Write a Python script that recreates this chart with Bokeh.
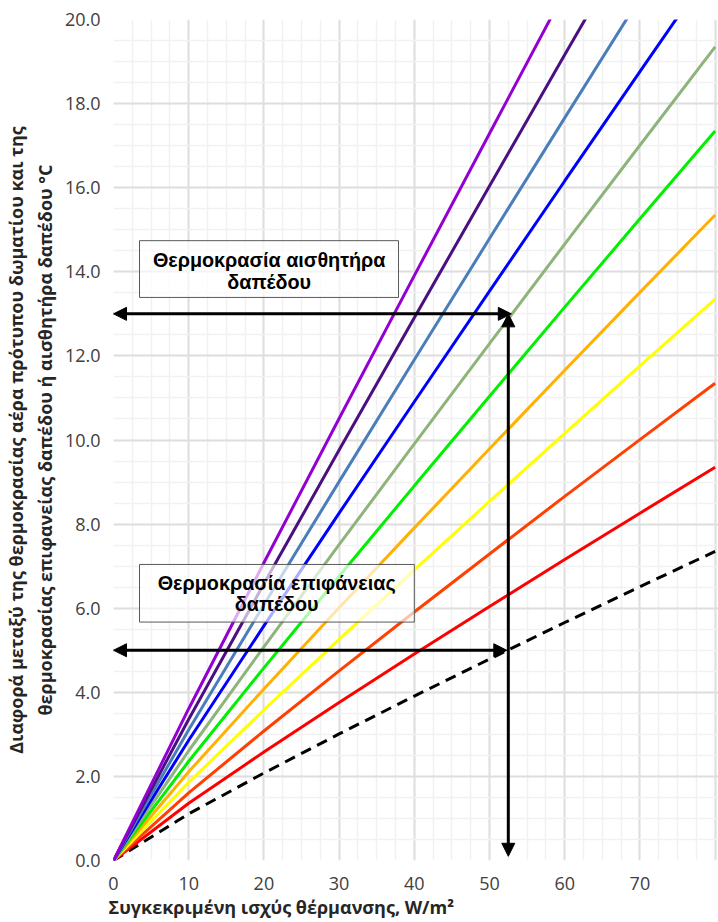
import numpy as np
from bokeh.plotting import figure
from bokeh.models import (FixedTicker, NumeralTickFormatter, Arrow, NormalHead,
                          BoxAnnotation, Label, Title, Range1d)
from bokeh.embed import file_html
from bokeh.resources import INLINE

# ---------------- data ----------------
power = [0, 10, 20, 30, 40, 50, 60, 70, 80]  # W/m²

surface = [0, 1.11, 2.08, 3.01, 3.91, 4.79, 5.66, 6.51, 7.35]
red = [0, 1.36, 2.58, 3.76, 4.91, 6.04, 7.16, 8.26, 9.35]
red_orange = [0, 1.61, 3.08, 4.51, 5.91, 7.29, 8.66, 10.01, 11.35]
yellow = [0, 1.86, 3.58, 5.26, 6.91, 8.54, 10.16, 11.76, 13.35]
orange = [0, 2.11, 4.08, 6.01, 7.91, 9.79, 11.66, 13.51, 15.35]
green = [0, 2.36, 4.58, 6.76, 8.91, 11.04, 13.16, 15.26, 17.35]
gray_green = [0, 2.61, 5.08, 7.51, 9.91, 12.29, 14.66, 17.01, 19.35]
blue = [0, 2.86, 5.58, 8.26, 10.91, 13.54, 16.16, 18.76, 21.35]
steel_blue = [0, 3.11, 6.08, 9.01, 11.91, 14.79, 17.66, 20.51, 23.35]
indigo = [0, 3.36, 6.58, 9.76, 12.91, 16.04, 19.16, 22.26, 25.35]
violet = [0, 3.61, 7.08, 10.51, 13.91, 17.29, 20.66, 24.01, 27.35]

sensor_series = [
    (red, "#ff0000"),
    (red_orange, "#ff4000"),
    (yellow, "#ffff00"),
    (orange, "#ffb000"),
    (green, "#00f000"),
    (gray_green, "#8db47a"),
    (blue, "#0000ff"),
    (steel_blue, "#4a7ebb"),
    (indigo, "#4b0f82"),
    (violet, "#9400d3"),
]

x_ticks = [0, 10, 20, 30, 40, 50, 60, 70, 80]
y_ticks = [0, 2, 4, 6, 8, 10, 12, 14, 16, 18, 20]
last_x_tick = x_ticks[-1]

# reading example (arrows)
sensor_level = 13.0
surface_level = 5.0
example_power = 52.5

x_label = "Συγκεκριμένη ισχύς θέρμανσης, W/m²"
y_label = ("Διαφορά μεταξύ της θερμοκρασίας αέρα πρότυπου δωματίου και της\n"
           "θερμοκρασίας επιφανείας δαπέδου ή αισθητήρα δαπέδου °C")
box1_lines = ["Θερμοκρασία αισθητήρα", "δαπέδου"]
box2_lines = ["Θερμοκρασία επιφάνειας", "δαπέδου"]

# ---------------- figure ----------------
p = figure(width=718, height=922, output_backend="svg", toolbar_location=None,
           x_range=Range1d(0, 80.45), y_range=Range1d(0, 20))
p.min_border_left = 113
p.min_border_right = 0
p.min_border_top = 19
p.min_border_bottom = 62
p.outline_line_color = None
p.background_fill_color = "white"
p.border_fill_color = "white"

p.xaxis.ticker = FixedTicker(ticks=x_ticks, minor_ticks=list(np.arange(0, 80.1, 2.5)))
p.yaxis.ticker = FixedTicker(ticks=y_ticks, minor_ticks=list(np.arange(0, 20.1, 0.5)))
p.yaxis.formatter = NumeralTickFormatter(format="0.0")
# the last x label would run past the page edge: drawn as a right-aligned label instead
p.xaxis.major_label_overrides = {last_x_tick: ""}

tick_font = dict(text_font="Open Sans", text_font_size="18px", text_color="#404040")
for ax in (p.xaxis, p.yaxis):
    ax.axis_line_color = None
    ax.major_tick_line_color = None
    ax.minor_tick_line_color = None
    ax.major_tick_out = 0
    ax.minor_tick_out = 0
    ax.major_label_text_font = tick_font["text_font"]
    ax.major_label_text_font_size = tick_font["text_font_size"]
    ax.major_label_text_color = tick_font["text_color"]
p.xaxis.major_label_standoff = 16
p.yaxis.major_label_standoff = 13

p.yaxis.axis_label = y_label
p.yaxis.axis_label_text_font = "Open Sans"
p.yaxis.axis_label_text_font_style = "bold"
p.yaxis.axis_label_text_font_size = "18px"
p.yaxis.axis_label_text_color = "#262626"
p.yaxis.axis_label_standoff = 5

for g in (p.xgrid, p.ygrid):
    g.grid_line_color = "#dedede"
    g.grid_line_width = 2
    g.minor_grid_line_color = "#f1f1f1"
    g.minor_grid_line_width = 1.5

p.add_layout(Title(text=x_label, align="left", text_font="Open Sans",
                   text_font_style="bold", text_font_size="18px",
                   text_color="#262626", offset=-5, standoff=0), "below")

p.add_layout(Label(x=last_x_tick, y=0, x_offset=2, y_offset=-27, text=str(last_x_tick),
                   text_align="right", text_baseline="middle", **tick_font))

# ---------------- lines ----------------
p.line(power, surface, line_color="black", line_width=3, line_dash="11 7")
for ys, col in sensor_series:
    p.line(power, ys, line_color=col, line_width=3)

# ---------------- text boxes ----------------
box_style = dict(fill_color="white", fill_alpha=0.68, line_color="#595959",
                 line_width=1, line_alpha=1)
p.add_layout(BoxAnnotation(left=3.46, right=37.9, top=14.74, bottom=13.39, **box_style))
p.add_layout(BoxAnnotation(left=3.46, right=40.0, top=7.04, bottom=5.67, **box_style))

lab_style = dict(text_font="Liberation Sans", text_font_style="bold",
                 text_font_size="19.8px", text_color="black",
                 text_align="center", text_baseline="middle")
p.add_layout(Label(x=20.7, y=14.28, text=box1_lines[0], **lab_style))
p.add_layout(Label(x=20.7, y=13.76, text=box1_lines[1], **lab_style))
p.add_layout(Label(x=21.7, y=6.59, text=box2_lines[0], **lab_style))
p.add_layout(Label(x=21.7, y=6.09, text=box2_lines[1], **lab_style))

# ---------------- arrows ----------------
def head():
    return NormalHead(size=13, fill_color="black", line_color="black", line_width=1)

p.add_layout(Arrow(start=head(), end=head(), x_start=0, y_start=sensor_level,
                   x_end=example_power + 0.4, y_end=sensor_level,
                   line_color="black", line_width=3))
p.add_layout(Arrow(start=head(), end=head(), x_start=example_power, y_start=sensor_level,
                   x_end=example_power, y_end=0.1,
                   line_color="black", line_width=3))
p.add_layout(Arrow(start=head(), end=head(), x_start=0, y_start=surface_level,
                   x_end=example_power - 0.2, y_end=surface_level,
                   line_color="black", line_width=3))

open("out.html", "w").write(file_html(p, INLINE))
